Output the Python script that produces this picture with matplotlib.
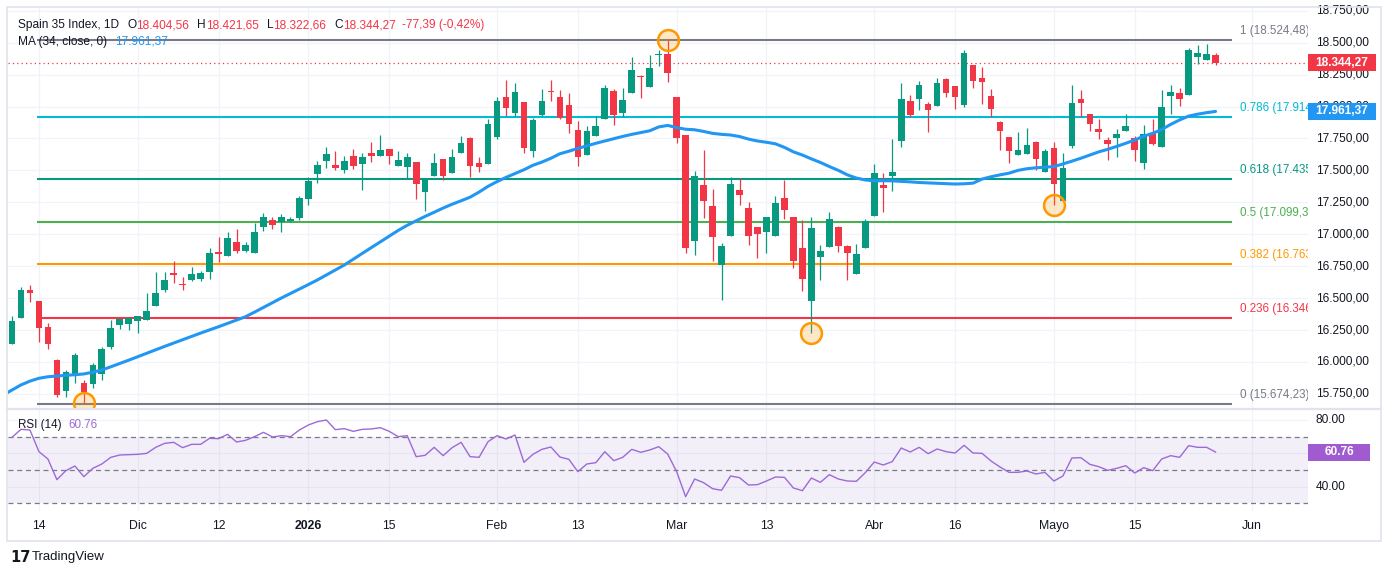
import matplotlib
matplotlib.use('Agg')
import matplotlib.pyplot as plt
from matplotlib import transforms
from matplotlib.patches import Rectangle
from matplotlib.lines import Line2D
import numpy as np

plt.rcParams['font.family'] = ['Liberation Sans', 'DejaVu Sans']

W, H = 1388, 575

# OHLC, daily candles (Spain 35 Index, 1D)
opens = [16140, 16346, 16563, 16477, 16274, 16015, 15775, 15906, 15835, 15828,
         15906, 16117, 16289, 16297, 16317, 16328, 16438, 16563, 16695, 16612,
         16642, 16650, 16707, 16858, 16832, 16939, 16871, 16855, 17059, 17112,
         17098, 17101, 17129, 17274, 17474, 17576, 17542, 17503, 17613, 17550,
         17636, 17613, 17668, 17534, 17526, 17566, 17331, 17456, 17589, 17480,
         17636, 17754, 17558, 17550, 17761, 18075, 17949, 18035, 17652, 17934,
         18121, 18075, 18012, 17816, 17621, 17769, 17902, 18121, 17949, 18106,
         18240, 18153, 18400, 18412, 18075, 17777, 16949, 17385, 17221, 16759,
         16986, 17346, 17205, 17057, 17018, 16986, 17284, 17135, 16892, 16480,
         16824, 16902, 17057, 16908, 16691, 16892, 17145, 17385, 17459, 17730,
         18043, 18059, 18020, 18004, 18215, 18161, 18012, 18325, 18223, 18082,
         17879, 17761, 17620, 17628, 17722, 17490, 17675, 17263, 17693, 18059,
         17942, 17824, 17738, 17756, 17811, 17753, 17560, 17795, 17685, 18085,
         18106, 18090, 18390, 18366, 18404.56]
highs = [16360, 16589, 16603, 16480, 16305, 16023, 15937, 16072, 15859, 15992,
         16117, 16328, 16336, 16346, 16360, 16540, 16707, 16704, 16790, 16667,
         16746, 16714, 16890, 16981, 17018, 17041, 16939, 17088, 17169, 17138,
         17158, 17135, 17299, 17446, 17571, 17681, 17652, 17613, 17668, 17634,
         17722, 17777, 17668, 17652, 17636, 17566, 17441, 17636, 17589, 17668,
         17769, 17761, 17605, 17902, 18075, 18208, 18184, 18035, 17910, 18137,
         18208, 18129, 18106, 17886, 17847, 17926, 18168, 18137, 18145, 18388,
         18247, 18403, 18443, 18524, 18075, 17777, 17495, 17660, 17354, 16934,
         17446, 17438, 17252, 17057, 17135, 17299, 17427, 17135, 17112, 17135,
         16916, 17174, 17065, 16916, 16924, 17119, 17550, 17480, 17746, 18184,
         18090, 18200, 18035, 18223, 18223, 18161, 18443, 18325, 18310, 18137,
         17886, 17761, 17801, 17832, 17730, 17668, 17722, 17636, 18168, 18129,
         17942, 17905, 17764, 17824, 17942, 17769, 17855, 17905, 18129, 18168,
         18145, 18459, 18482, 18490, 18421.65]
lows = [16140, 16346, 16472, 16159, 16102, 15725, 15728, 15837, 15679, 15796,
        15859, 16102, 16258, 16250, 16227, 16328, 16438, 16548, 16618, 16563,
        16630, 16630, 16650, 16785, 16832, 16855, 16863, 16855, 17028, 17039,
        17020, 17095, 17112, 17229, 17399, 17519, 17503, 17482, 17513, 17346,
        17566, 17613, 17550, 17534, 17433, 17276, 17182, 17456, 17425, 17480,
        17636, 17448, 17487, 17550, 17746, 17926, 17926, 17636, 17605, 17926,
        18043, 17902, 17793, 17534, 17621, 17769, 17902, 17855, 17918, 18106,
        18067, 18153, 18318, 18192, 17714, 16855, 16837, 17129, 16793, 16485,
        16986, 17229, 16916, 16817, 16855, 16986, 17122, 16738, 16558, 16225,
        16642, 16902, 16863, 16642, 16691, 16892, 17145, 17176, 17341, 17683,
        17918, 17973, 17801, 18004, 18075, 17981, 17996, 18145, 18020, 17918,
        17660, 17558, 17620, 17628, 17503, 17490, 17231, 17263, 17677, 17918,
        17808, 17748, 17581, 17607, 17811, 17573, 17513, 17699, 17685, 17942,
        18006, 18090, 18336, 18366, 18322.66]
closes = [16321, 16563, 16542, 16268, 16141, 15741, 15922, 16054, 15767, 15976,
          16101, 16266, 16336, 16346, 16360, 16399, 16540, 16642, 16680, 16600,
          16689, 16699, 16851, 16845, 16970, 16871, 16916, 17018, 17133, 17075,
          17133, 17119, 17281, 17419, 17540, 17628, 17521, 17571, 17534, 17605,
          17613, 17660, 17613, 17581, 17605, 17393, 17433, 17558, 17456, 17605,
          17714, 17534, 17526, 17863, 18043, 17988, 18114, 17675, 17894, 18043,
          18113, 17910, 17863, 17605, 17808, 17847, 18145, 17934, 18051, 18286,
          18229, 18302, 18412, 18263, 17754, 16890, 17456, 17263, 16981, 16908,
          17393, 17307, 16986, 17002, 17135, 17244, 17192, 16793, 16652, 17049,
          16869, 17119, 16910, 16855, 16845, 17104, 17480, 17365, 17488, 18059,
          17934, 18168, 17973, 18184, 18106, 18075, 18419, 18200, 18192, 17981,
          17808, 17652, 17660, 17699, 17589, 17652, 17396, 17519, 18028, 18030,
          17866, 17803, 17709, 17785, 17848, 17662, 17785, 17709, 17996, 18114,
          18061, 18443, 18419, 18412, 18344.27]

# MA(34, close) as drawn; first value sits one bar left of the first visible candle
ma34 = [15740, 15780, 15820, 15850, 15872, 15884, 15890, 15895, 15900, 15906,
        15920, 15937, 15962, 15988, 16014, 16041, 16068, 16095, 16122, 16148,
        16174, 16200, 16226, 16251, 16276, 16302, 16328, 16354, 16390, 16427,
        16464, 16501, 16536, 16571, 16606, 16642, 16681, 16720, 16759, 16805,
        16850, 16895, 16940, 16985, 17030, 17070, 17105, 17140, 17172, 17205,
        17235, 17262, 17290, 17330, 17375, 17412, 17445, 17475, 17505, 17540,
        17565, 17595, 17630, 17650, 17672, 17692, 17712, 17730, 17748, 17766,
        17782, 17796, 17810, 17840, 17852, 17835, 17822, 17818, 17805, 17790,
        17782, 17777, 17765, 17745, 17730, 17720, 17708, 17680, 17645, 17620,
        17590, 17562, 17530, 17500, 17465, 17440, 17425, 17418, 17419, 17418,
        17414, 17410, 17405, 17402, 17399, 17396, 17393, 17395, 17400, 17432,
        17450, 17465, 17478, 17500, 17513, 17520, 17525, 17530, 17550, 17572,
        17595, 17620, 17645, 17665, 17688, 17712, 17738, 17768, 17790, 17820,
        17860, 17895, 17925, 17940, 17952, 17961.37]

rsi14 = [69.6, 74.4, 74.0, 61.0, 56.6, 44.2, 49.6, 52.4, 46.0, 51.0,
         53.6, 57.6, 59.0, 59.2, 59.4, 60.0, 63.6, 66.0, 66.6, 63.4,
         65.4, 65.4, 69.0, 68.8, 71.4, 66.8, 67.8, 70.0, 72.6, 69.8,
         70.6, 70.0, 74.0, 77.0, 79.0, 80.0, 74.2, 74.8, 73.2, 74.4,
         74.6, 75.4, 73.2, 70.0, 70.6, 58.0, 58.8, 63.6, 58.6, 63.4,
         66.6, 58.0, 57.6, 67.0, 70.6, 68.6, 71.0, 54.6, 59.4, 62.4,
         63.8, 57.8, 56.4, 49.0, 53.6, 54.4, 61.0, 55.6, 57.6, 62.4,
         60.6, 62.0, 64.0, 59.6, 49.0, 34.0, 44.6, 42.4, 38.8, 37.8,
         46.4, 45.4, 41.0, 41.2, 43.4, 45.8, 45.6, 39.2, 37.6, 45.2,
         42.6, 47.2, 44.6, 43.4, 43.2, 48.4, 54.8, 53.0, 55.0, 63.2,
         60.8, 63.6, 59.8, 62.6, 61.0, 60.2, 64.8, 60.2, 60.0, 55.4,
         51.8, 48.6, 48.6, 49.4, 47.6, 48.6, 43.4, 46.4, 57.2, 57.4,
         53.4, 52.0, 49.8, 51.0, 52.6, 48.2, 51.4, 49.6, 56.6, 58.6,
         57.6, 64.6, 63.6, 63.6, 60.76]

date_idx = [3, 14, 23, 33, 42, 54, 63, 74, 84, 96, 105, 116, 125, 138]
date_labels = ['14', 'Dic', '12', '2026', '15', 'Feb', '13', 'Mar', '13', 'Abr',
               '16', 'Mayo', '15', 'Jun']

fib_low, fib_high = 15674.23, 18524.48
fib_ratios = [1, 0.786, 0.618, 0.5, 0.382, 0.236, 0]
fib_colors = ['#787b86', '#00bcd4', '#089981', '#4caf50', '#ff9800', '#f23645', '#787b86']

swing_idx = [8, 73, 89, 116]      # circled pivots
swing_is_high = [False, True, False, False]

price_ticks = np.arange(15750, 18751, 250)

GREEN = '#089981'
RED = '#f23645'
BLUE = '#2196f3'
PURPLE = '#9c6ad6'
DARK = '#131722'
GRID = '#f0f3fa'


def es(v, nd=2):
    s = f"{v:,.{nd}f}"
    return s.replace(',', 'X').replace('.', ',').replace('X', '.')


fig = plt.figure(figsize=(W / 100, H / 100), dpi=100)
fig.patch.set_facecolor('white')

XL = (-0.445, 144.29)
ax = fig.add_axes([8 / W, 1 - 408 / H, 1300 / W, 400 / H])
ax.set_xlim(*XL)
ax.set_ylim(15639.4, 18771.4)
axr = fig.add_axes([8 / W, 1 - 511 / H, 1300 / W, 102 / H])
axr.set_xlim(*XL)
axr.set_ylim(25.4, 86.6)
for a in (ax, axr):
    a.set_axis_off()

# grid
for v in price_ticks:
    ax.axhline(v, color=GRID, lw=0.9, zorder=0)
for v in (80, 60, 40):
    axr.axhline(v, color=GRID, lw=0.9, zorder=0)
for i in date_idx:
    ax.axvline(i, color=GRID, lw=0.9, zorder=0)
    axr.axvline(i, color=GRID, lw=0.9, zorder=0)

# fibonacci levels
fib_levels = [fib_low + r * (fib_high - fib_low) for r in fib_ratios]
lab_tr = transforms.offset_copy(ax.transData, fig=fig, x=0, y=3, units='dots')
for r, lv, c in zip(fib_ratios, fib_levels, fib_colors):
    ax.hlines(lv, 2.78, 135.8, color=c, lw=1.5, zorder=2)
    ax.text(136.7, lv, f"{r} ({es(lv)})", color=c, fontsize=8.4, ha='left',
            va='bottom', transform=lab_tr, clip_on=True, zorder=2)

# candles
x = np.arange(len(closes))
o = np.array(opens)
c = np.array(closes)
up = c >= o
cols = np.where(up, GREEN, RED)
ax.vlines(x, lows, highs, colors=cols, lw=0.9, zorder=3)
mid = (o + c) / 2
bh = np.maximum(np.abs(c - o), 9)
ax.bar(x, bh, bottom=mid - bh / 2, width=0.74, color=cols, lw=0, zorder=4)

# moving average
ax.plot(np.arange(-1, len(closes)), ma34, color=BLUE, lw=2.2, zorder=5,
        solid_capstyle='round')

# last price line
ax.axhline(closes[-1], color=RED, lw=0.9, ls=(0, (1, 2.5)), zorder=2)

# swing circles
sp = [highs[i] if hi else lows[i] for i, hi in zip(swing_idx, swing_is_high)]
ax.scatter(swing_idx, sp, s=225, facecolor=(1, 0.6, 0, 0.22),
           edgecolor='#ff9800', lw=1.8, zorder=6)

# price scale
ytr = ax.get_yaxis_transform()
for v in price_ticks:
    ax.text(1.006, v, es(v), transform=ytr, fontsize=8.6, color=DARK,
            ha='left', va='center', clip_on=False)


def tag(axis, val, txt, color, width=68):
    yd = axis.transData.transform((0, val))[1]
    fig.add_artist(Rectangle((1308 / W, (yd - 8.5) / H), width / W, 17 / H,
                             transform=fig.transFigure, fc=color, ec='none'))
    fig.text((1308 + width / 2) / W, yd / H, txt, color='white', fontsize=8.6,
             fontweight='bold', ha='center', va='center')


tag(ax, closes[-1], es(closes[-1]), RED)
tag(ax, ma34[-1], es(ma34[-1]), BLUE)

# RSI pane
axr.axhspan(30, 70, color='#7e57c2', alpha=0.09, lw=0, zorder=1)
for v in (70, 50, 30):
    axr.axhline(v, color='#787b86', lw=0.9, ls=(0, (4, 3)), zorder=2)
axr.plot(x, rsi14, color=PURPLE, lw=1.0, zorder=3)
rtr = axr.get_yaxis_transform()
for v in (80, 40):
    axr.text(1.006, v, f"{v:.2f}", transform=rtr, fontsize=8.6, color=DARK,
             ha='left', va='center', clip_on=False)
tag(axr, rsi14[-1], f"{rsi14[-1]:.2f}", '#a05bd0', width=62)

# date labels
xtr = axr.get_xaxis_transform()
for i, lab in zip(date_idx, date_labels):
    axr.text(i, -0.147, lab, transform=xtr, fontsize=8.8, color=DARK,
             ha='center', va='center', clip_on=False,
             fontweight='bold' if lab == '2026' else 'normal')

# frame and pane separator
fig.add_artist(Rectangle((7 / W, 1 - 541 / H), 1374 / W, 534 / H,
                         transform=fig.transFigure, fill=False,
                         ec='#e0e3eb', lw=1.2))
fig.add_artist(Line2D([7 / W, 1381 / W], [1 - 409 / H] * 2,
                      transform=fig.transFigure, color='#e0e3eb', lw=1.6))

# legend rows
renderer = fig.canvas.get_renderer()


def row(x0, y0, pieces, size):
    xp = x0
    for txt, col, gap in pieces:
        t = fig.text(xp / W, 1 - y0 / H, txt, color=col, fontsize=size,
                     ha='left', va='center')
        xp += t.get_window_extent(renderer).width + gap


row(18, 25, [("Spain 35 Index, 1D", DARK, 8), ("O", DARK, 0),
             (es(opens[-1]), RED, 8), ("H", DARK, 0), (es(highs[-1]), RED, 8),
             ("L", DARK, 0), (es(lows[-1]), RED, 8), ("C", DARK, 0),
             (es(closes[-1]), RED, 6), ("-77,39 (-0,42%)", RED, 0)], 8.6)
row(18, 42, [("MA (34, close, 0)", DARK, 8), (es(ma34[-1]), BLUE, 0)], 8.6)
row(18, 425, [("RSI (14)", DARK, 7), (f"{rsi14[-1]:.2f}", PURPLE, 0)], 8.4)

# logo
fig.text(10 / W, 1 - 557 / H, "17", fontsize=10.5, fontweight='bold',
         color=DARK, ha='left', va='center', family='DejaVu Sans')
fig.text(32 / W, 1 - 557 / H, "TradingView", fontsize=9.5, color=DARK,
         ha='left', va='center')

fig.savefig('out.png', dpi=100)
plt.close(fig)
